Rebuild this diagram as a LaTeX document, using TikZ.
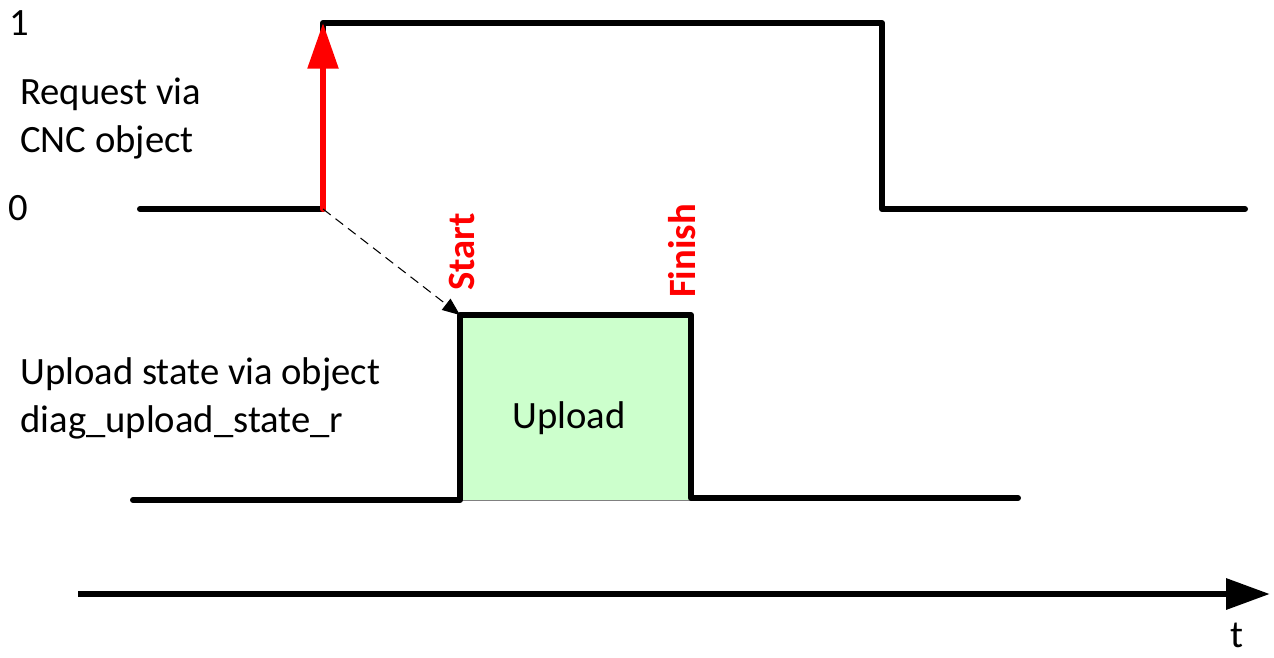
\documentclass[tikz,border=0pt]{standalone}
\usepackage{fontspec}
\setmainfont{Carlito}
\usepackage{tikz}
\usetikzlibrary{arrows.meta, calc}
\definecolor{uploadgreen}{HTML}{CCFFCC}
\definecolor{eventred}{HTML}{FF0000}

\tikzset{
  signal/.style={line width=3.4pt, line cap=round, line join=round},
  labeltext/.style={inner sep=0pt, font=\fontsize{22}{27}\selectfont},
  eventtext/.style={inner sep=0pt, text=eventred, rotate=90, font=\fontsize{22}{26}\selectfont\bfseries},
}

\begin{document}
\begin{tikzpicture}[x=0.02cm, y=-0.02cm]
  \useasboundingbox (0,0) rectangle (1274,657);

  % Request signal
  \coordinate (R0) at (140,209);
  \coordinate (R1) at (323,209);
  \coordinate (R2) at (323,23);
  \coordinate (R3) at (882,23);
  \coordinate (R4) at (882,209);
  \coordinate (R5) at (1245,209);

  % Upload state signal
  \coordinate (U0) at (133,500);
  \coordinate (U1) at (460,500);
  \coordinate (U2) at (460,315);
  \coordinate (U3) at (691,315);
  \coordinate (U4) at (691,498);
  \coordinate (U5) at (1018,498);

  % Time axis
  \coordinate (T0) at (78,594);
  \coordinate (T1) at (1270,594);

  \filldraw[fill=uploadgreen, draw=black!50, line width=0.4pt] (U1) rectangle (U3);
  \draw[signal] (R0) -- (R1) -- (R2) -- (R3) -- (R4) -- (R5);
  \draw[signal] (U0) -- (U1) -- (U2) -- (U3) -- (U4) -- (U5);

  \draw[signal, eventred, -{Triangle[length=26pt, width=17pt]}] (R1) -- (R2);
  \draw[line width=0.6pt, dash pattern=on 5.5pt off 3.5pt, -{Triangle[length=10pt, width=8pt]}] (R1) -- (U2);
  \draw[line width=3.8pt, -{Triangle[length=25pt, width=17pt]}] (T0) -- (T1);

  \node[labeltext, anchor=base west] (one) at (9,35) {1};
  \node[labeltext, anchor=base west] (zero) at (8,220) {0};
  \node[labeltext, anchor=base west, align=left] (request) at (20,152) {Request via\\CNC object};
  \node[labeltext, anchor=base west, align=left] (uploadstate) at (20,432) {Upload state via object\\diag\_upload\_state\_r};
  \node[labeltext] (upload) at (569,418) {Upload};
  \node[eventtext] (start) at (462,252) {Start};
  \node[eventtext] (finish) at (682,251) {Finish};
  \node[labeltext, anchor=base] (time) at (1237,647) {t};
\end{tikzpicture}
\end{document}
